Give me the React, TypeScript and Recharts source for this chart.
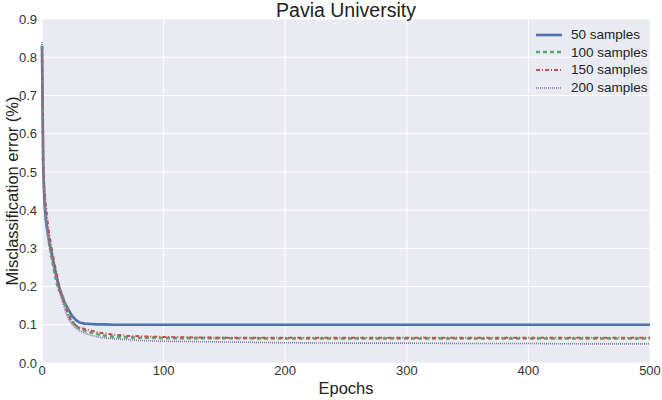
import React from 'react';
import { LineChart, Line, XAxis, YAxis, CartesianGrid } from 'recharts';

const epochs = [0, 1, 2, 3, 4, 5, 6, 8, 10, 12, 14, 16, 18, 20, 22, 25, 28, 31, 35, 40, 45, 50, 60, 70, 80, 90, 100, 125, 150, 200, 250, 300, 350, 400, 450, 500];

const samples50 = [0.83, 0.52, 0.42, 0.38, 0.355, 0.335, 0.315, 0.285, 0.255, 0.225, 0.2, 0.18, 0.163, 0.15, 0.138, 0.122, 0.112, 0.106, 0.103, 0.102, 0.101, 0.101, 0.1, 0.1, 0.1, 0.1, 0.1, 0.1, 0.1, 0.1, 0.1, 0.1, 0.1, 0.1, 0.1, 0.1];
const samples100 = [0.83, 0.5, 0.43, 0.39, 0.36, 0.335, 0.31, 0.275, 0.24, 0.21, 0.19, 0.185, 0.165, 0.145, 0.128, 0.108, 0.097, 0.09, 0.085, 0.08, 0.076, 0.072, 0.068, 0.067, 0.066, 0.066, 0.065, 0.065, 0.065, 0.064, 0.064, 0.064, 0.064, 0.064, 0.064, 0.064];
const samples150 = [0.82, 0.52, 0.45, 0.42, 0.39, 0.36, 0.335, 0.3, 0.265, 0.235, 0.205, 0.18, 0.16, 0.14, 0.122, 0.106, 0.098, 0.093, 0.089, 0.085, 0.081, 0.078, 0.074, 0.071, 0.07, 0.069, 0.068, 0.067, 0.066, 0.066, 0.066, 0.066, 0.066, 0.066, 0.066, 0.066];
const samples200 = [0.84, 0.5, 0.43, 0.39, 0.36, 0.335, 0.31, 0.275, 0.245, 0.215, 0.19, 0.168, 0.148, 0.128, 0.113, 0.1, 0.091, 0.084, 0.078, 0.073, 0.069, 0.066, 0.063, 0.061, 0.059, 0.058, 0.057, 0.056, 0.055, 0.053, 0.052, 0.052, 0.051, 0.051, 0.05, 0.05];

const seriesNames = ['50 samples', '100 samples', '150 samples', '200 samples'];
const xTicks = [0, 100, 200, 300, 400, 500];
const yTicks = [0, 0.1, 0.2, 0.3, 0.4, 0.5, 0.6, 0.7, 0.8, 0.9];

const data = epochs.map((epoch, i) => ({
    epoch,
    s50: samples50[i],
    s100: samples100[i],
    s150: samples150[i],
    s200: samples200[i],
}));

const FONT = '"Liberation Sans", Arial, sans-serif';

const series = [
    { key: 's50', name: seriesNames[0], color: '#4C72B0', width: 2.6, dash: undefined },
    { key: 's100', name: seriesNames[1], color: '#55A868', width: 2.6, dash: '4 3' },
    { key: 's150', name: seriesNames[2], color: '#C44E52', width: 2, dash: '4 2 1 2' },
    { key: 's200', name: seriesNames[3], color: '#8172B2', width: 1.6, dash: '1 1' },
];

// legend drawn by hand so it floats over the plot like matplotlib's
const LegendBox = () => (
    <div style={{ position: 'absolute', left: 534, top: 26, fontFamily: FONT, fontSize: 13.5, color: '#222' }}>
        {series.map((s) => (
            <div key={s.key} style={{ display: 'flex', alignItems: 'center', height: 17.6 }}>
                <svg width={37} height={10}>
                    <line x1={2} y1={5} x2={28} y2={5} stroke={s.color} strokeWidth={s.width} strokeDasharray={s.dash} />
                </svg>
                <span>{s.name}</span>
            </div>
        ))}
    </div>
);

const App: React.FC = () => {
    return (
        <div style={{ position: 'absolute', left: 0, top: 0, width: 662, height: 400, background: '#fff' }}>
            <LineChart width={662} height={400} data={data} margin={{ top: 19, right: 12, left: 0, bottom: 0 }}>
                <CartesianGrid fill="#EAEAF2" stroke="#FFFFFF" strokeWidth={1} />
                <XAxis
                    dataKey="epoch"
                    type="number"
                    domain={[0, 500]}
                    ticks={xTicks}
                    tickLine={false}
                    axisLine={false}
                    height={37}
                    tickSize={2}
                    tickMargin={1}
                    tick={{ fill: '#333', fontSize: 13, fontFamily: FONT }}
                    label={{ value: 'Epochs', position: 'insideBottom', offset: 6, style: { fill: '#222', fontSize: 16.5, fontFamily: FONT } }}
                />
                <YAxis
                    type="number"
                    domain={[0, 0.9]}
                    ticks={yTicks}
                    tickFormatter={(v: number) => v.toFixed(1)}
                    tickLine={false}
                    axisLine={false}
                    width={42}
                    tickSize={2}
                    tickMargin={3}
                    tick={{ fill: '#333', fontSize: 13, fontFamily: FONT }}
                    label={{ value: 'Misclassification error (%)', angle: -90, position: 'insideLeft', offset: 12, style: { textAnchor: 'middle', fill: '#222', fontSize: 16.5, fontFamily: FONT } }}
                />
                {series.map((s) => (
                    <Line
                        key={s.key}
                        type="linear"
                        dataKey={s.key}
                        name={s.name}
                        stroke={s.color}
                        strokeWidth={s.width}
                        strokeDasharray={s.dash}
                        dot={false}
                        isAnimationActive={false}
                    />
                ))}
            </LineChart>
            <div style={{ position: 'absolute', left: 42, width: 608, top: 0, lineHeight: '20px', textAlign: 'center', fontFamily: FONT, fontSize: 19.5, color: '#222' }}>
                Pavia University
            </div>
            <LegendBox />
        </div>
    );
};

export default App;
